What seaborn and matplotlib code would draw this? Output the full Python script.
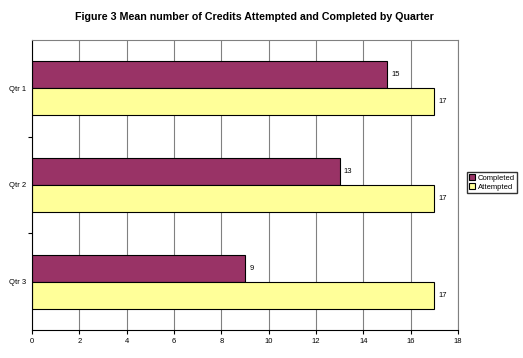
import matplotlib
matplotlib.use("Agg")
import matplotlib.pyplot as plt
import seaborn as sns
import pandas as pd

quarters = ["Qtr 1", "Qtr 2", "Qtr 3"]
completed = [15, 13, 9]
attempted = [17, 17, 17]
series = ["Completed", "Attempted"]
colors = ["#993366", "#FFFF99"]
xticks = [0, 2, 4, 6, 8, 10, 12, 14, 16, 18]

df = pd.DataFrame({
    "Quarter": quarters * 2,
    "Value": completed + attempted,
    "Series": [series[0]] * 3 + [series[1]] * 3,
})

sns.set_style("white")
plt.rcParams["font.family"] = ["Liberation Sans", "DejaVu Sans"]
plt.rcParams["text.color"] = "black"
plt.rcParams["xtick.color"] = "black"
plt.rcParams["ytick.color"] = "black"
plt.rcParams["axes.labelcolor"] = "black"

fig = plt.figure(figsize=(5.23, 3.58), dpi=100)
ax = fig.add_axes([32/523, 1-330/358, (458-32)/523, (330-40)/358])

sns.barplot(data=df, y="Quarter", x="Value", hue="Series", order=quarters,
            hue_order=series, palette=colors, orient="h", width=0.56, gap=0,
            edgecolor="black", linewidth=0.8, saturation=1, ax=ax, legend=True)

for cont in ax.containers:
    ax.bar_label(cont, fmt="%g", padding=3, fontsize=5.5, color="black")

ax.set_xlim(0, 18)
ax.set_xticks(xticks)
ax.set_xticklabels([str(t) for t in xticks], fontsize=5.5)
ax.set_ylim(2.5, -0.5)
ax.set_yticks([0, 1, 2])
ax.set_yticklabels(quarters, fontsize=5.5)
ax.set_yticks([0.5, 1.5], minor=True)
ax.tick_params(axis="y", which="major", length=0, pad=4)
ax.tick_params(axis="y", which="minor", length=3, width=0.8, color="black", left=True)
ax.tick_params(axis="x", length=3, width=0.8, color="black", bottom=True, pad=3)
ax.set_xlabel("")
ax.set_ylabel("")
ax.grid(axis="x", color="#808080", linewidth=0.8)
ax.set_axisbelow(True)
for s in ["top", "right"]:
    ax.spines[s].set_color("#808080")
    ax.spines[s].set_linewidth(0.8)
for s in ["left", "bottom"]:
    ax.spines[s].set_color("black")
    ax.spines[s].set_linewidth(0.8)

handles, labels = ax.get_legend_handles_labels()
ax.legend_.remove()
fig.legend(handles, labels, loc="upper left", bbox_to_anchor=(467/523, 1-172/358),
           fontsize=5.5, frameon=True, fancybox=False, edgecolor="black",
           handlelength=0.8, handleheight=0.8, handletextpad=0.3,
           borderpad=0.3, labelspacing=0.2, borderaxespad=0)

fig.text(254/523, 1-17/358, "Figure 3 Mean number of Credits Attempted and Completed by Quarter",
         ha="center", va="center", fontsize=7.7, fontweight="bold", color="black")

fig.savefig("out.png", dpi=100)
